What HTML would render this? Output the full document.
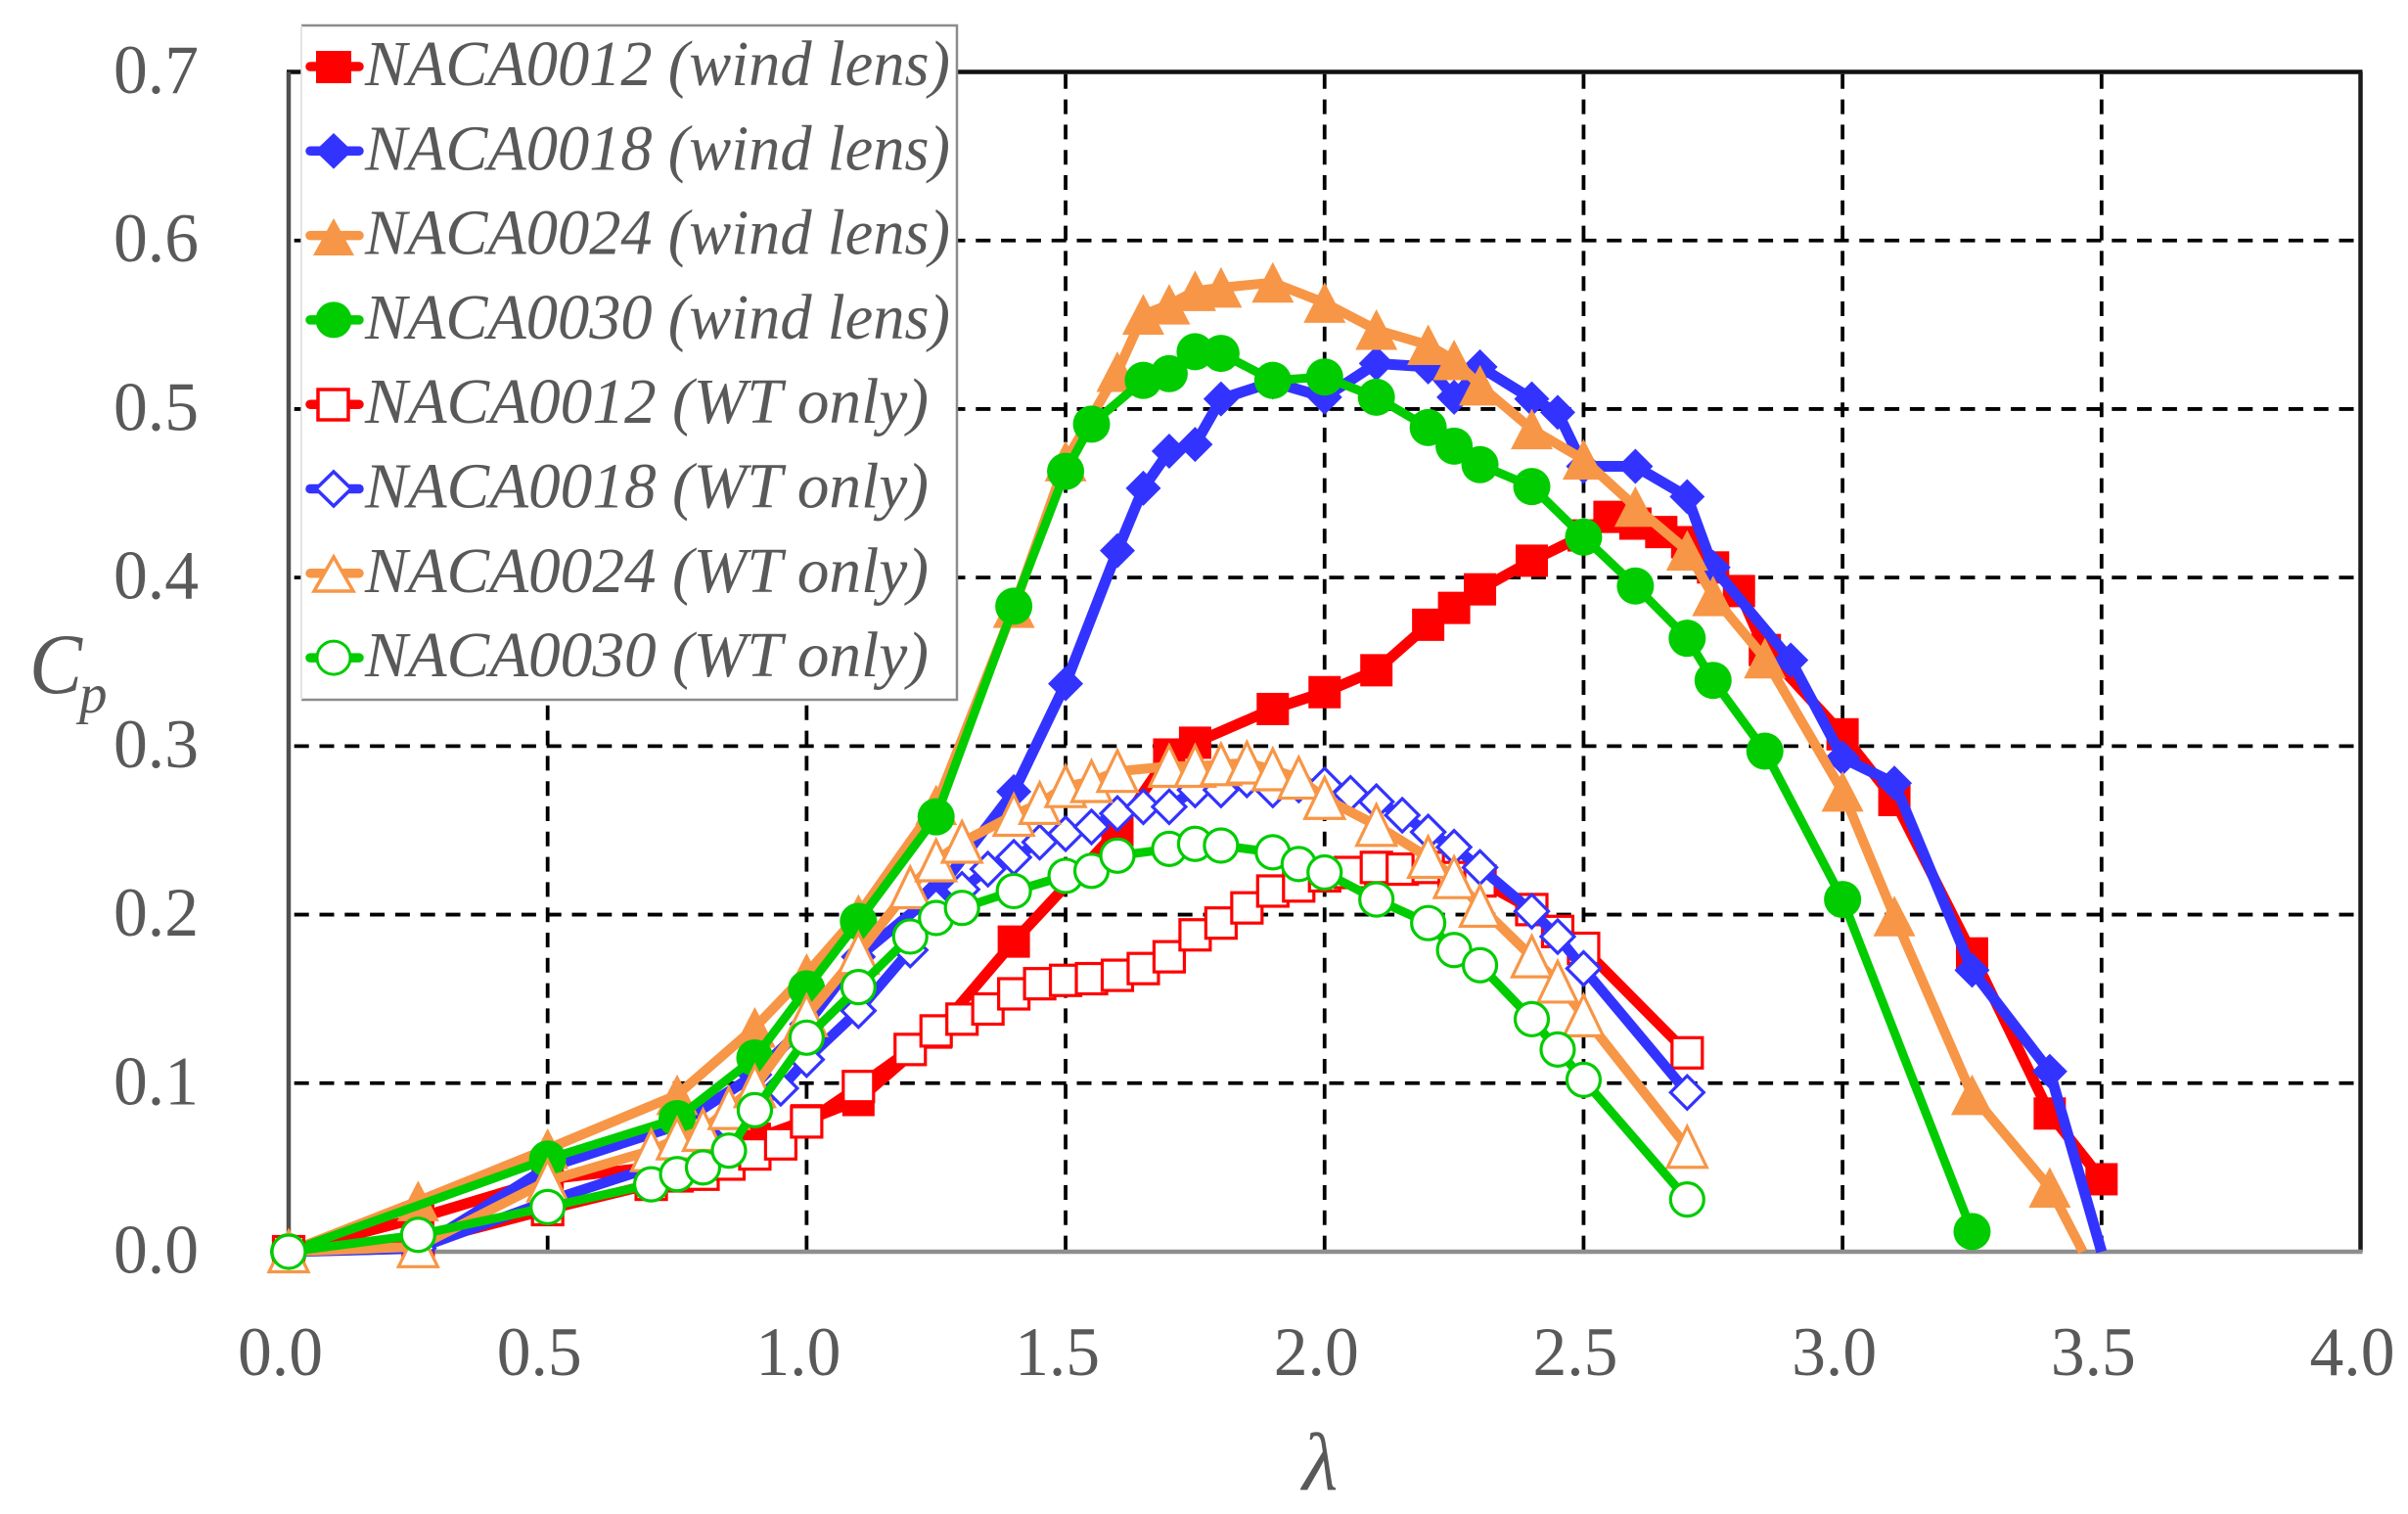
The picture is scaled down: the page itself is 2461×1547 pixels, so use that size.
<!DOCTYPE html>
<html lang="en">
<head>
<meta charset="utf-8">
<title>Cp vs lambda chart</title>
<style>
html,body{margin:0;padding:0;background:#fff;}
svg{display:block;}
text{font-family:"Liberation Serif",serif;fill:#595959;}
.it{font-style:italic;}
</style>
</head>
<body>
<svg id="chart" xmlns="http://www.w3.org/2000/svg" width="2461" height="1547" viewBox="0 0 2461 1547">
  <g id="grid"></g>
  <g id="frame"></g>
  <g id="series"></g>
  <g id="ticks"></g>

  <g>
    <text class="it" x="30" y="708" font-size="88" textLength="54" lengthAdjust="spacingAndGlyphs">C</text>
    <text class="it" x="81" y="728" font-size="57">p</text>
  </g>
  <text class="it" x="1331" y="1522" font-size="84">λ</text>

  <g id="legend">
    <rect x="308" y="26" width="670" height="689" fill="#fff"/>
    <path d="M308 26H978V715H308" fill="none" stroke="#8c8c8c" stroke-width="2.5"/>
    <path d="M308 26V715" fill="none" stroke="#dcdcdc" stroke-width="1.5"/>

    <g>
      <line x1="317" x2="367" y1="68" y2="68" stroke="#ff0000" stroke-width="9.5" stroke-linecap="round"/>
      <rect x="323" y="52" width="36" height="33" fill="#ff0000"/>
      <text class="it" x="373" y="87" font-size="66" textLength="598" lengthAdjust="spacingAndGlyphs">NACA0012 (wind lens)</text>
    </g>
    <g>
      <line x1="317" x2="367" y1="154.3" y2="154.3" stroke="#3333ff" stroke-width="9.5" stroke-linecap="round"/>
      <path d="M341 136L360 154.3L341 172.6L322 154.3Z" fill="#3333ff"/>
      <text class="it" x="373" y="173.3" font-size="66" textLength="598" lengthAdjust="spacingAndGlyphs">NACA0018 (wind lens)</text>
    </g>
    <g>
      <line x1="317" x2="367" y1="240.6" y2="240.6" stroke="#f79646" stroke-width="9.5" stroke-linecap="round"/>
      <path d="M341 223L362 261H320Z" fill="#f79646"/>
      <text class="it" x="373" y="259.6" font-size="66" textLength="598" lengthAdjust="spacingAndGlyphs">NACA0024 (wind lens)</text>
    </g>
    <g>
      <line x1="317" x2="367" y1="326.9" y2="326.9" stroke="#00cc00" stroke-width="9.5" stroke-linecap="round"/>
      <circle cx="341" cy="326.9" r="18.5" fill="#00cc00"/>
      <text class="it" x="373" y="345.9" font-size="66" textLength="598" lengthAdjust="spacingAndGlyphs">NACA0030 (wind lens)</text>
    </g>
    <g>
      <line x1="317" x2="367" y1="413.2" y2="413.2" stroke="#ff0000" stroke-width="9.5" stroke-linecap="round"/>
      <rect x="325" y="398" width="31" height="31" fill="#fff" stroke="#ff0000" stroke-width="3.5"/>
      <text class="it" x="373" y="432.2" font-size="66" textLength="576" lengthAdjust="spacingAndGlyphs">NACA0012 (WT only)</text>
    </g>
    <g>
      <line x1="317" x2="367" y1="499.5" y2="499.5" stroke="#3333ff" stroke-width="9.5" stroke-linecap="round"/>
      <path d="M341 482L359 499.5L341 517L323 499.5Z" fill="#fff" stroke="#3333ff" stroke-width="3.5"/>
      <text class="it" x="373" y="518.5" font-size="66" textLength="576" lengthAdjust="spacingAndGlyphs">NACA0018 (WT only)</text>
    </g>
    <g>
      <line x1="317" x2="367" y1="585.8" y2="585.8" stroke="#f79646" stroke-width="9.5" stroke-linecap="round"/>
      <path d="M341 569L361 604H321Z" fill="#fff" stroke="#f79646" stroke-width="3.5"/>
      <text class="it" x="373" y="604.8" font-size="66" textLength="576" lengthAdjust="spacingAndGlyphs">NACA0024 (WT only)</text>
    </g>
    <g>
      <line x1="317" x2="367" y1="672.1" y2="672.1" stroke="#00cc00" stroke-width="9.5" stroke-linecap="round"/>
      <circle cx="341" cy="672.1" r="17" fill="#fff" stroke="#00cc00" stroke-width="3"/>
      <text class="it" x="373" y="691.1" font-size="66" textLength="576" lengthAdjust="spacingAndGlyphs">NACA0030 (WT only)</text>
    </g>
  </g>
</svg>

<script>
const xTickLabels = ["0.0","0.5","1.0","1.5","2.0","2.5","3.0","3.5","4.0"];
const yTickLabels = ["0.0","0.1","0.2","0.3","0.4","0.5","0.6","0.7"];

const lambdaRedFilled = [0,0.25,0.5,0.75,0.9,1.0,1.1,1.25,1.4,1.6,1.7,1.75,1.9,2.0,2.1,2.2,2.25,2.3,2.4,2.5,2.55,2.6,2.65,2.7,2.75,2.8,2.85,3.0,3.1,3.25,3.4,3.5];
const cpRedFilled = [0,0.02,0.043,0.052,0.067,0.078,0.09,0.13,0.184,0.25,0.295,0.302,0.322,0.332,0.345,0.372,0.382,0.393,0.41,0.425,0.436,0.432,0.427,0.421,0.406,0.392,0.357,0.307,0.268,0.177,0.082,0.043];

const lambdaBlueFilled = [0,0.25,0.5,0.75,0.9,1.0,1.1,1.25,1.4,1.5,1.6,1.65,1.7,1.75,1.8,1.9,2.0,2.1,2.2,2.25,2.3,2.4,2.45,2.5,2.6,2.7,2.75,2.9,3.0,3.1,3.25,3.4,3.5];
const cpBlueFilled = [0,0.002,0.05,0.075,0.105,0.135,0.175,0.213,0.273,0.337,0.416,0.453,0.475,0.479,0.506,0.516,0.507,0.527,0.525,0.507,0.525,0.506,0.498,0.466,0.466,0.448,0.406,0.351,0.293,0.278,0.167,0.107,0];

const lambdaOrangeFilled = [0,0.25,0.5,0.75,0.9,1.0,1.1,1.25,1.4,1.5,1.6,1.65,1.7,1.75,1.8,1.9,2.0,2.1,2.2,2.25,2.3,2.4,2.5,2.6,2.7,2.75,2.85,3.0,3.1,3.25,3.4,3.464];
const cpOrangeFilled = [0,0.03,0.061,0.093,0.133,0.165,0.2,0.265,0.382,0.469,0.522,0.556,0.562,0.57,0.572,0.575,0.563,0.547,0.538,0.529,0.514,0.488,0.47,0.442,0.416,0.389,0.352,0.273,0.199,0.093,0.038,0];

const lambdaGreenFilled = [0,0.5,0.75,0.9,1.0,1.1,1.25,1.4,1.5,1.55,1.65,1.7,1.75,1.8,1.9,2.0,2.1,2.2,2.25,2.3,2.4,2.5,2.6,2.7,2.75,2.85,3.0,3.25];
const cpGreenFilled = [0,0.055,0.079,0.115,0.156,0.196,0.258,0.383,0.463,0.491,0.517,0.521,0.534,0.533,0.517,0.519,0.507,0.489,0.478,0.467,0.454,0.424,0.395,0.364,0.339,0.297,0.209,0.012];

const lambdaRedHollow = [0,0.25,0.5,0.7,0.75,0.8,0.85,0.9,0.95,1.0,1.1,1.2,1.25,1.3,1.35,1.4,1.45,1.5,1.55,1.6,1.65,1.7,1.75,1.8,1.85,1.9,1.95,2.0,2.05,2.1,2.15,2.2,2.25,2.3,2.4,2.45,2.5,2.7];
const cpRedHollow = [0,0.005,0.025,0.04,0.045,0.046,0.052,0.058,0.064,0.077,0.098,0.12,0.131,0.138,0.144,0.153,0.159,0.161,0.162,0.164,0.168,0.175,0.188,0.195,0.204,0.214,0.217,0.223,0.225,0.228,0.227,0.228,0.222,0.22,0.203,0.19,0.18,0.118];

const lambdaBlueHollow = [0,0.25,0.5,0.7,0.75,0.8,0.85,0.9,0.95,1.0,1.1,1.2,1.25,1.3,1.35,1.4,1.45,1.5,1.55,1.6,1.65,1.7,1.75,1.8,1.85,1.9,1.95,2.0,2.05,2.1,2.15,2.2,2.25,2.3,2.4,2.45,2.5,2.7];
const cpBlueHollow = [0,0.002,0.03,0.05,0.06,0.068,0.075,0.085,0.097,0.114,0.143,0.179,0.205,0.215,0.227,0.234,0.243,0.248,0.252,0.26,0.264,0.264,0.274,0.274,0.28,0.274,0.277,0.277,0.272,0.267,0.259,0.249,0.24,0.228,0.202,0.187,0.168,0.0945];

const lambdaOrangeHollow = [0,0.25,0.5,0.7,0.75,0.8,0.85,0.9,1.0,1.1,1.2,1.25,1.3,1.4,1.45,1.5,1.55,1.6,1.7,1.75,1.8,1.85,1.9,1.95,2.0,2.1,2.2,2.25,2.3,2.4,2.45,2.5,2.7];
const cpOrangeHollow = [0,0.003,0.042,0.06,0.067,0.072,0.085,0.098,0.14,0.177,0.216,0.232,0.243,0.259,0.266,0.276,0.279,0.285,0.288,0.288,0.289,0.29,0.286,0.281,0.269,0.253,0.234,0.222,0.205,0.175,0.16,0.14,0.062];

const lambdaGreenHollow = [0,0.25,0.5,0.7,0.75,0.8,0.85,0.9,1.0,1.1,1.2,1.25,1.3,1.4,1.5,1.55,1.6,1.7,1.75,1.8,1.9,1.95,2.0,2.1,2.2,2.25,2.3,2.4,2.45,2.5,2.7];
const cpGreenHollow = [0,0.01,0.0265,0.04,0.046,0.05,0.06,0.084,0.127,0.157,0.187,0.198,0.204,0.214,0.223,0.226,0.235,0.239,0.242,0.241,0.237,0.23,0.225,0.209,0.195,0.179,0.17,0.138,0.12,0.102,0.031];

const NS = "http://www.w3.org/2000/svg";
const X0 = 295, X1 = 2412.5, Y0 = 1279, Y1 = 73.5;
const sx = v => X0 + (v / 4.0) * (X1 - X0);
const sy = v => Y0 - (v / 0.7) * (Y0 - Y1);

function make(tag, parent, attrs) {
  const el = document.createElementNS(NS, tag);
  for (const k in attrs) el.setAttribute(k, attrs[k]);
  parent.appendChild(el);
  return el;
}

const gridG = document.getElementById("grid");
const frameG = document.getElementById("frame");
const ticksG = document.getElementById("ticks");
const seriesG = document.getElementById("series");

xTickLabels.forEach(function (label) {
  const v = parseFloat(label);
  if (v > 0 && v < 4) {
    const line = make("line", gridG, {x1: sx(v), x2: sx(v), y1: Y1, y2: Y0, stroke: "#000", "stroke-width": 3.8, "stroke-dasharray": "15 10.8", "stroke-dashoffset": "-2.3"});
    
    
  }
  const t = make("text", ticksG, {x: sx(v) - 52, y: 1405, "font-size": 71, textLength: 87, lengthAdjust: "spacingAndGlyphs"});
  t.textContent = label;
  
  
});

yTickLabels.forEach(function (label) {
  const v = parseFloat(label);
  if (v > 0 && v < 0.7) {
    const line = make("line", gridG, {x1: X0, x2: X1, y1: sy(v), y2: sy(v), stroke: "#000", "stroke-width": 3.8, "stroke-dasharray": "15 10.8", "stroke-dashoffset": "-5.7"});
    
    
  }
  const t = make("text", ticksG, {x: 116, y: sy(v) + 21.5, "font-size": 71, textLength: 87, lengthAdjust: "spacingAndGlyphs"});
  t.textContent = label;
  
  
});

const axisTop = make("line", frameG, {x1: X0 - 2, x2: X1 + 2, y1: Y1, y2: Y1, stroke: "#111", "stroke-width": 4.5});


const axisRight = make("line", frameG, {x1: X1, x2: X1, y1: Y1, y2: Y0, stroke: "#1a1a1a", "stroke-width": 4.5});


const axisLeft = make("line", frameG, {x1: X0, x2: X0, y1: Y1, y2: Y0, stroke: "#505050", "stroke-width": 4.5});


const axisBottom = make("line", frameG, {x1: X0, x2: X1 + 2, y1: Y0, y2: Y0, stroke: "#8e8e8e", "stroke-width": 4.5});



function drawMarker(g, shape, color, hollow, cx, cy) {
  const fill = hollow ? "#fff" : color;
  const sw = hollow ? 3.2 : 0;
  let el;
  if (shape === "square") {
    const h = hollow ? 15.5 : 16.5;
    el = make("rect", g, {x: cx - h, y: cy - h, width: 2 * h, height: 2 * h});
  } else if (shape === "diamond") {
    const h = hollow ? 17 : 18;
    el = make("path", g, {d: "M" + cx + " " + (cy - h) + "L" + (cx + h) + " " + cy + "L" + cx + " " + (cy + h) + "L" + (cx - h) + " " + cy + "Z"});
  } else if (shape === "triangle") {
    const w = hollow ? 20 : 21.5;
    el = make("path", g, {d: "M" + cx + " " + (cy - 21) + "L" + (cx + w) + " " + (cy + 20.5) + "L" + (cx - w) + " " + (cy + 20.5) + "Z"});
  } else {
    el = make("circle", g, {cx: cx, cy: cy, r: hollow ? 17 : 19});
  }
  el.setAttribute("fill", fill);
  el.setAttribute("stroke", hollow ? color : "none");
  el.setAttribute("stroke-width", sw);
  
  
}

function drawSeries(name, xs, ys, color, shape, hollow, lw) {
  const g = make("g", seriesG, {});
  
  
  const pts = xs.map((x, i) => sx(x) + "," + sy(ys[i])).join(" ");
  const line = make("polyline", g, {points: pts, fill: "none", stroke: color, "stroke-width": lw, "stroke-linejoin": "round"});
  
  
  xs.forEach((x, i) => {
    if (x > 0 && ys[i] === 0) return;
    drawMarker(g, shape, color, hollow, sx(x), sy(ys[i]));
  });
}

drawSeries("naca0012-wind-lens", lambdaRedFilled, cpRedFilled, "#ff0000", "square", false, 11);
drawSeries("naca0018-wind-lens", lambdaBlueFilled, cpBlueFilled, "#3333ff", "diamond", false, 11);
drawSeries("naca0024-wind-lens", lambdaOrangeFilled, cpOrangeFilled, "#f79646", "triangle", false, 10);
drawSeries("naca0030-wind-lens", lambdaGreenFilled, cpGreenFilled, "#00cc00", "circle", false, 9);
drawSeries("naca0012-wt-only", lambdaRedHollow, cpRedHollow, "#ff0000", "square", true, 10.5);
drawSeries("naca0018-wt-only", lambdaBlueHollow, cpBlueHollow, "#3333ff", "diamond", true, 10.5);
drawSeries("naca0024-wt-only", lambdaOrangeHollow, cpOrangeHollow, "#f79646", "triangle", true, 10);
drawSeries("naca0030-wt-only", lambdaGreenHollow, cpGreenHollow, "#00cc00", "circle", true, 9);
</script>
</body>
</html>
